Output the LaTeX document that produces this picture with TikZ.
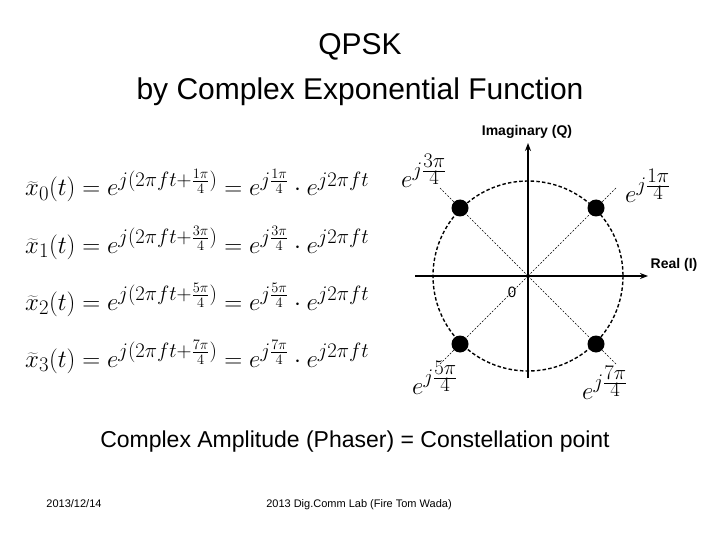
\documentclass[tikz,border=0pt]{standalone}
\usepackage{fontspec}
\setmainfont{Liberation Sans}
\usetikzlibrary{arrows.meta}
\newcommand{\expo}[1]{\hbox{\fontsize{20}{22}\selectfont$j\frac{\textstyle #1\pi}{\textstyle 4}$}}
\begin{document}
\begin{tikzpicture}[x=1pt,y=-1pt,
  axis/.style={line width=1.6pt,-{Stealth[length=8pt,width=6pt]}},
  diag/.style={line width=0.4pt,dash pattern=on 2pt off 1.5pt},
  ring/.style={line width=1.4pt,dash pattern=on 3.5pt off 2.2pt},
  pt/.style={circle,fill=black,inner sep=0pt,minimum size=17pt},
  eqn/.style={anchor=base west,inner sep=0pt,font=\fontsize{28}{31}\selectfont},
  lab/.style={inner sep=0pt,font=\fontsize{42}{46}\selectfont},
  ax/.style={inner sep=0pt,font=\fontsize{14}{16}\selectfont\bfseries},
  foot/.style={inner sep=0pt,anchor=base,font=\fontsize{11}{13}\selectfont}]
\useasboundingbox (0,0) rectangle (720,540);
% title
\node[inner sep=0pt,font=\fontsize{30}{34}\selectfont] (t1) at (360,47) {QPSK};
\node[inner sep=0pt,font=\fontsize{30}{34}\selectfont] (t2) at (360,92) {by Complex Exponential Function};
% equations
\node[eqn] (e0) at (25,196) {$\widetilde{x}_0(t)=e^{j(2\pi ft+\frac{1\pi}{4})}=e^{j\frac{1\pi}{4}}\cdot e^{j2\pi ft}$};
\node[eqn] (e1) at (25,253) {$\widetilde{x}_1(t)=e^{j(2\pi ft+\frac{3\pi}{4})}=e^{j\frac{3\pi}{4}}\cdot e^{j2\pi ft}$};
\node[eqn] (e2) at (25,310) {$\widetilde{x}_2(t)=e^{j(2\pi ft+\frac{5\pi}{4})}=e^{j\frac{5\pi}{4}}\cdot e^{j2\pi ft}$};
\node[eqn] (e3) at (25,367) {$\widetilde{x}_3(t)=e^{j(2\pi ft+\frac{7\pi}{4})}=e^{j\frac{7\pi}{4}}\cdot e^{j2\pi ft}$};
% constellation
\coordinate (o) at (528,276);
\coordinate (xl) at (415,276);
\coordinate (xr) at (648,276);
\coordinate (yb) at (528,378);
\coordinate (yt) at (528,143);
\coordinate (d1) at (616,188);
\coordinate (d3) at (440,188);
\coordinate (d5) at (440,364);
\coordinate (d7) at (616,364);
\draw[diag] (o) -- (d1);
\draw[diag] (o) -- (d3);
\draw[diag] (o) -- (d5);
\draw[diag] (o) -- (d7);
\draw[ring] (o) circle[radius=95];
\draw[axis] (xl) -- (xr);
\draw[axis] (yb) -- (yt);
\node[pt] (p1) at (596,208) {};
\node[pt] (p3) at (460,208) {};
\node[pt] (p5) at (460,344) {};
\node[pt] (p7) at (596,344) {};
\node[ax] (iq) at (527,132) {Imaginary (Q)};
\node[ax] (ri) at (674,265) {Real (I)};
\node[inner sep=0pt,font=\fontsize{15}{17}\selectfont] (zero) at (512,292) {0};
\node[lab] (l3) at (424,171) {$e^{\expo{3}}$};
\node[lab] (l1) at (648,186) {$e^{\expo{1}}$};
\node[lab] (l5) at (435,378) {$e^{\expo{5}}$};
\node[lab] (l7) at (605,383) {$e^{\expo{7}}$};
% caption
\node[inner sep=0pt,font=\fontsize{23}{26}\selectfont] (cap) at (355,442) {Complex Amplitude (Phaser) = Constellation point};
\node[foot] (date) at (74,507) {2013/12/14};
\node[foot] (lab) at (359,507) {2013 Dig.Comm Lab (Fire Tom Wada)};
\end{tikzpicture}
\end{document}
